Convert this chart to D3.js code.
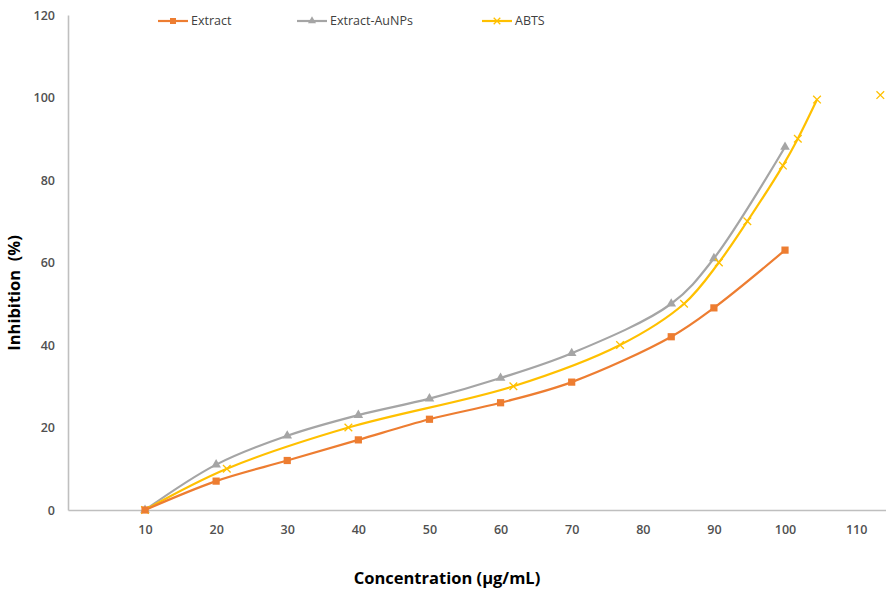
<!DOCTYPE html>
<html>
<head>
<meta charset="utf-8">
<script src="https://cdn.jsdelivr.net/npm/d3@7"></script>
<style>
  body { margin: 0; background: #fff; }
  svg { display: block; font-family: "Open Sans", Lato, sans-serif; }
</style>
</head>
<body>
<svg id="chart" width="886" height="589"></svg>
<script>
// ---- Data ----
const concentration = [10, 20, 30, 40, 50, 60, 70, 84, 90, 100];
const extract       = [0, 7, 12, 17, 22, 26, 31, 42, 49, 63];
const extractAuNPs  = [0, 11, 18, 23, 27, 32, 38, 50, 61, 88];
const abtsX         = [10, 21.5, 38.6, 61.8, 76.8, 85.8, 90.7, 94.7, 99.7, 101.8, 104.5];
const abtsY         = [0, 10, 20, 30, 40, 50, 60, 70, 83.5, 90, 99.5];
const abtsLoneX     = [113.4];
const abtsLoneY     = [100.6];
const xTicks = [10, 20, 30, 40, 50, 60, 70, 80, 90, 100, 110];
const yTicks = [0, 20, 40, 60, 80, 100, 120];
const seriesNames = ["Extract", "Extract-AuNPs", "ABTS"];

const colors = { orange: "#ED7D31", gray: "#A5A5A5", yellow: "#FFC000" };

const svg = d3.select("#chart");
const x = d3.scaleLinear().domain([-0.83, 114.2]).range([68, 886]);
const y = d3.scaleLinear().domain([0, 120]).range([510, 15]);

// Axes
const xAxis = d3.axisBottom(x).tickValues(xTicks).tickSize(0).tickPadding(15).tickFormat(d3.format("d"));
const yAxis = d3.axisLeft(y).tickValues(yTicks).tickSize(0).tickPadding(13).tickFormat(d3.format("d"));

const gx = svg.append("g").attr("transform", `translate(0,${y(0)})`).call(xAxis);
const gy = svg.append("g").attr("transform", `translate(${x(-0.83)},0)`).call(yAxis);
[gx, gy].forEach(g => {
  g.select(".domain").attr("stroke", "#BFBFBF").attr("stroke-width", 1.6);
  g.selectAll("text").attr("fill", "#505050").attr("font-size", 12.5)
    .attr("font-weight", 600).attr("font-family", "'Open Sans', sans-serif");
});

// Lines
const line = d3.line().x(d => x(d[0])).y(d => y(d[1])).curve(d3.curveCatmullRom.alpha(0.5));
const dExtract = concentration.map((c, i) => [c, extract[i]]);
const dAu = concentration.map((c, i) => [c, extractAuNPs[i]]);
const dAbts = abtsX.map((c, i) => [c, abtsY[i]]);
const dAbtsLone = abtsLoneX.map((c, i) => [c, abtsLoneY[i]]);

svg.append("path").datum(dAu).attr("d", line).attr("fill", "none").attr("stroke", colors.gray).attr("stroke-width", 2.2);
svg.append("path").datum(dAbts).attr("d", line).attr("fill", "none").attr("stroke", colors.yellow).attr("stroke-width", 2.2);
svg.append("path").datum(dExtract).attr("d", line).attr("fill", "none").attr("stroke", colors.orange).attr("stroke-width", 2.2);

// Markers
const sq = d3.symbol().type(d3.symbolSquare).size(52);
const tri = d3.symbol().type(d3.symbolTriangle).size(40);
const cross = d3.symbol().type(d3.symbolX).size(40);

svg.append("g").selectAll("path").data(dAu).join("path")
  .attr("d", tri).attr("transform", d => `translate(${x(d[0])},${y(d[1])})`)
  .attr("fill", colors.gray);
svg.append("g").selectAll("path").data(dAbts.concat(dAbtsLone)).join("path")
  .attr("d", cross).attr("transform", d => `translate(${x(d[0])},${y(d[1])})`)
  .attr("fill", "none").attr("stroke", colors.yellow).attr("stroke-width", 1.3);
svg.append("g").selectAll("path").data(dExtract).join("path")
  .attr("d", sq).attr("transform", d => `translate(${x(d[0])},${y(d[1])})`)
  .attr("fill", colors.orange);

// Legend
const legendItems = [
  { name: seriesNames[0], x0: 158, color: colors.orange, sym: d3.symbol().type(d3.symbolSquare).size(36), fill: true },
  { name: seriesNames[1], x0: 297, color: colors.gray, sym: d3.symbol().type(d3.symbolTriangle).size(28), fill: true },
  { name: seriesNames[2], x0: 482, color: colors.yellow, sym: d3.symbol().type(d3.symbolX).size(30), fill: false }
];
const lg = svg.append("g");
legendItems.forEach(it => {
  const g = lg.append("g").attr("transform", `translate(${it.x0},21)`);
  g.append("line").attr("x1", 0).attr("x2", 30).attr("y1", 0).attr("y2", 0)
    .attr("stroke", it.color).attr("stroke-width", 2.2);
  const m = g.append("path").attr("d", it.sym).attr("transform", "translate(15,0)");
  if (it.fill) m.attr("fill", it.color);
  else m.attr("fill", "none").attr("stroke", it.color).attr("stroke-width", 1.3);
  g.append("text").attr("x", 33).attr("y", 0).attr("dy", "0.35em")
    .attr("font-size", 12.5).attr("fill", "#404040").text(it.name);
});

// Axis titles
svg.append("text").attr("x", 447).attr("y", 584)
  .attr("text-anchor", "middle").attr("font-size", 16.5).attr("font-weight", "bold")
  .attr("fill", "#000").text("Concentration (µg/mL)");
svg.append("text").attr("transform", "translate(20,293) rotate(-90)")
  .attr("text-anchor", "middle").attr("font-size", 16.5).attr("font-weight", "bold")
  .attr("fill", "#000").style("white-space", "pre").text("Inhibition  (%)");
</script>
</body>
</html>
